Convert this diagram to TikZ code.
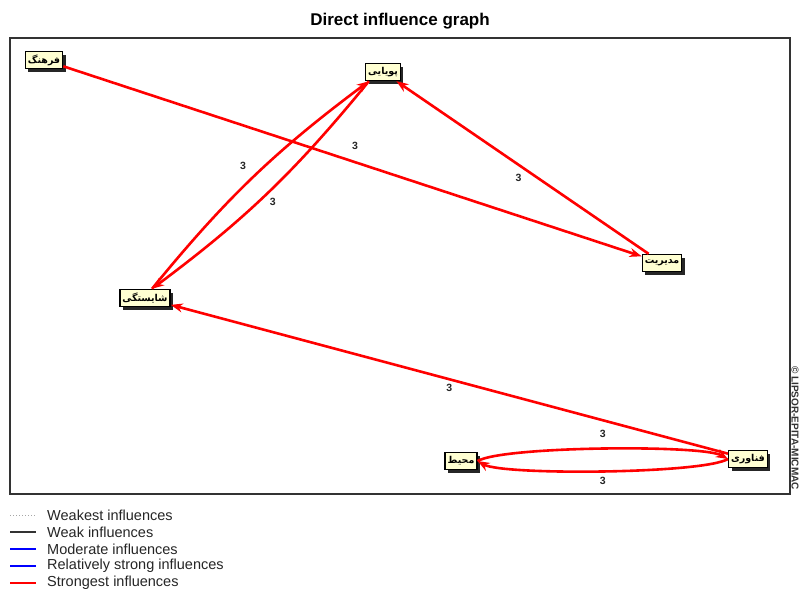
\documentclass[tikz,border=0pt]{standalone}
\usepackage{fontspec}
\setmainfont{Liberation Sans}
\newfontfamily\arabicfont[Script=Arabic]{DejaVu Sans}
\TeXXeTstate=1
\usetikzlibrary{arrows.meta,shadows}
\definecolor{nodefill}{HTML}{FFFFD2}
\definecolor{infred}{HTML}{FF0000}
\definecolor{infblue}{HTML}{0000FF}
\begin{document}
\begin{tikzpicture}[x=1pt,y=-1pt,
  every node/.style={inner sep=0pt},
  concept/.style={draw=black, line width=1.4pt, fill=nodefill, inner xsep=2.5pt, inner ysep=1pt,
    minimum height=17pt, font=\arabicfont\bfseries\fontsize{9.5}{10}\selectfont,
    drop shadow={shadow xshift=3pt, shadow yshift=-3pt, fill=black!85, opacity=1}},
  strong/.style={draw=infred, line width=2.6pt, -{Stealth[length=12pt,width=9pt]}},
  val/.style={font=\bfseries\fontsize{10.5}{11}\selectfont, text=black!85},
  legtext/.style={anchor=west, font=\fontsize{14.5}{15}\selectfont, text=black!85},
]
\useasboundingbox (0,0) rectangle (801,592);
\fill[white] (0,0) rectangle (801,592);

% title and frame
\node[font=\bfseries\fontsize{17}{19}\selectfont] (title) at (400,21) {Direct influence graph};
\draw[line width=1.6pt, black!80] (10,38) rectangle (790,494);
\node[rotate=-90, font=\bfseries\fontsize{10}{11}\selectfont, text=black!80] (copy) at (795,428) {© LIPSOR-EPITA-MICMAC};

% variables
\node[concept] (farhang) at (44,60) {\beginR فرهنگ\endR};
\node[concept] (pooya) at (383,72) {\beginR پویایی\endR};
\node[concept] (modir) at (662,263) {\beginR مدیریت\endR};
\node[concept] (shay) at (145,298) {\beginR شایستگی\endR};
\node[concept] (mohit) at (461,461) {\beginR محیط\endR};
\node[concept] (fanav) at (748,459) {\beginR فناوری\endR};

% influences
\draw[strong] (farhang) -- node[val, xshift=2.5pt, yshift=15.5pt] (l1) {3} (modir);
\draw[strong] (modir) -- node[val, xshift=-4pt, yshift=-10pt] (l2) {3} (pooya);
\draw[strong] ([xshift=7pt]shay.north) to[bend left=7] node[val, xshift=-10pt, yshift=11pt] (l3) {3} ([xshift=4pt]pooya.south west);
\draw[strong] ([xshift=4pt]pooya.south west) to[bend left=7] node[val, xshift=5pt, yshift=-9pt] (l4) {3} ([xshift=7pt]shay.north);
\draw[strong] (fanav) -- node[val, yshift=-9pt] (l5) {3} (shay);
\draw[strong] (mohit.east) to[bend left=30, looseness=0.3] node[val, yshift=15pt] (l6) {3} (fanav.west);
\draw[strong] (fanav.west) to[bend left=30, looseness=0.3] node[val, yshift=-10pt] (l7) {3} (mohit.east);

% legend
\draw[black!35, dotted, line width=1pt] (10,515) -- (36,515);
\node[legtext] (lg1) at (47,515) {Weakest influences};
\draw[black!80, line width=1.1pt] (10,532) -- (36,532);
\node[legtext] (lg2) at (47,532) {Weak influences};
\draw[infblue, line width=1.3pt] (10,549) -- (36,549);
\node[legtext] (lg3) at (47,549) {Moderate influences};
\draw[infblue, line width=2.8pt] (10,566) -- (36,566);
\node[legtext] (lg4) at (47,566) {Relatively strong influences};
\draw[infred, line width=2.8pt] (10,583) -- (36,583);
\node[legtext] (lg5) at (47,583) {Strongest influences};
\end{tikzpicture}
\end{document}
